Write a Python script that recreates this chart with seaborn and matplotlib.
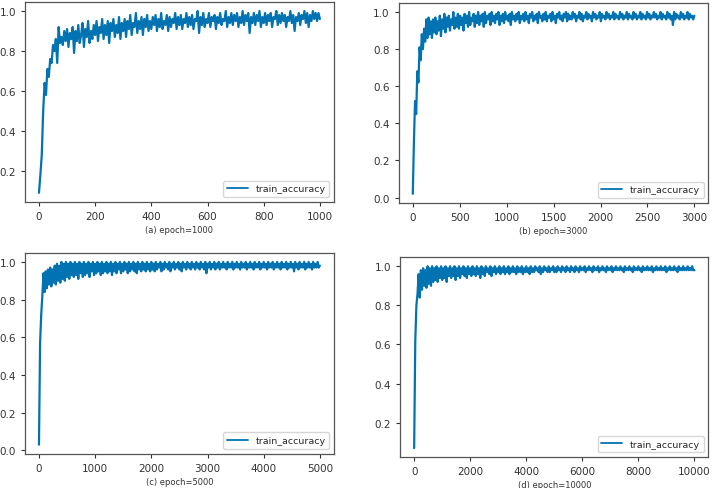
import numpy as np
import pandas as pd
import seaborn as sns
import matplotlib.pyplot as plt

# epochs sampled for each run
epochs_a = np.arange(0, 1001, 5)
epochs_b = np.arange(0, 3001, 12)
epochs_c = np.arange(0, 5001, 20)
epochs_d = np.arange(0, 10001, 40)

# training accuracy
acc_a = [
    0.09, 0.18, 0.28, 0.50, 0.64, 0.58, 0.71, 0.67, 0.76, 0.74, 0.83, 0.80, 0.86, 0.74, 0.92, 0.84, 0.87, 0.83, 0.90, 0.85,
    0.91, 0.82, 0.89, 0.86, 0.92, 0.79, 0.90, 0.85, 0.93, 0.84, 0.88, 0.94, 0.82, 0.91, 0.87, 0.95, 0.84, 0.90, 0.86, 0.93,
    0.88, 0.95, 0.85, 0.92, 0.89, 0.96, 0.86, 0.93, 0.88, 0.95, 0.84, 0.94, 0.90, 0.96, 0.87, 0.93, 0.89, 0.97, 0.86, 0.94,
    0.90, 0.96, 0.87, 0.95, 0.91, 0.98, 0.88, 0.94, 0.92, 0.99, 0.89, 0.95, 0.91, 0.97, 0.88, 0.96, 0.92, 0.98, 0.90, 0.95,
    0.91, 0.97, 0.93, 0.98, 0.90, 0.96, 0.92, 0.99, 0.91, 0.95, 0.93, 0.98, 0.90, 0.97, 0.92, 0.96, 0.94, 0.99, 0.91, 0.97,
    0.93, 0.98, 0.91, 0.96, 0.94, 0.99, 0.92, 0.97, 0.93, 0.98, 0.91, 0.96, 0.95, 1.00, 0.89, 0.97, 0.93, 0.99, 0.92, 0.96,
    0.94, 0.99, 0.92, 0.97, 0.95, 0.98, 0.91, 0.97, 0.94, 0.99, 0.93, 0.96, 0.95, 1.00, 0.92, 0.97, 0.94, 0.99, 0.93, 0.98,
    0.95, 0.99, 0.92, 0.97, 0.94, 1.00, 0.93, 0.98, 0.95, 0.99, 0.89, 0.97, 0.94, 0.99, 0.93, 0.98, 0.95, 1.00, 0.92, 0.97,
    0.94, 0.99, 0.93, 0.98, 0.95, 0.99, 0.92, 0.97, 0.96, 1.00, 0.93, 0.98, 0.94, 0.99, 0.95, 0.98, 0.92, 0.97, 0.95, 1.00,
    0.94, 0.98, 0.90, 0.97, 0.95, 0.99, 0.93, 0.98, 0.96, 1.00, 0.94, 0.99, 0.92, 0.98, 0.95, 1.00, 0.96, 0.99, 0.95, 0.99,
    0.96,
]

acc_b = [
    0.02, 0.30, 0.52, 0.45, 0.68, 0.62, 0.81, 0.74, 0.88, 0.80, 0.91, 0.84, 0.96, 0.86, 0.97, 0.88, 0.95, 0.86, 0.96, 0.89,
    0.97, 0.88, 0.95, 0.90, 0.98, 0.87, 0.96, 0.91, 0.99, 0.89, 0.97, 0.92, 0.98, 0.90, 0.96, 0.93, 1.00, 0.91, 0.97, 0.92,
    0.99, 0.91, 0.98, 0.93, 0.97, 0.90, 0.99, 0.94, 0.98, 0.92, 1.00, 0.93, 0.97, 0.95, 0.99, 0.92, 0.98, 0.94, 1.00, 0.93,
    0.98, 0.95, 0.99, 0.92, 1.00, 0.94, 0.98, 0.96, 0.99, 0.93, 1.00, 0.95, 0.98, 0.94, 0.99, 0.96, 1.00, 0.93, 0.98, 0.95,
    0.99, 0.94, 1.00, 0.96, 0.98, 0.95, 0.99, 0.93, 1.00, 0.96, 0.98, 0.95, 0.99, 0.96, 1.00, 0.94, 0.98, 0.96, 0.99, 0.95,
    1.00, 0.96, 0.98, 0.94, 0.99, 0.97, 1.00, 0.95, 0.98, 0.96, 0.99, 0.94, 1.00, 0.97, 0.98, 0.95, 0.99, 0.96, 1.00, 0.95,
    0.98, 0.97, 0.99, 0.95, 1.00, 0.96, 0.98, 0.94, 0.99, 0.97, 1.00, 0.96, 0.98, 0.95, 0.99, 0.97, 1.00, 0.95, 0.99, 0.96,
    0.98, 0.96, 1.00, 0.97, 0.99, 0.95, 0.98, 0.97, 1.00, 0.96, 0.99, 0.95, 0.98, 0.97, 1.00, 0.96, 0.99, 0.97, 0.98, 0.95,
    1.00, 0.97, 0.99, 0.96, 0.98, 0.97, 1.00, 0.95, 0.99, 0.97, 0.98, 0.96, 1.00, 0.97, 0.99, 0.96, 0.98, 0.97, 1.00, 0.96,
    0.99, 0.97, 0.98, 0.96, 1.00, 0.97, 0.99, 0.96, 0.98, 0.97, 1.00, 0.96, 0.99, 0.97, 0.98, 0.96, 1.00, 0.97, 0.99, 0.96,
    0.98, 0.97, 1.00, 0.96, 0.99, 0.97, 0.98, 0.96, 1.00, 0.97, 0.99, 0.96, 0.98, 0.97, 1.00, 0.97, 0.99, 0.96, 0.98, 0.97,
    1.00, 0.96, 0.99, 0.97, 0.98, 0.96, 1.00, 0.97, 0.99, 0.96, 0.98, 0.93, 1.00, 0.96, 0.99, 0.97, 0.98, 0.96, 1.00, 0.97,
    0.99, 0.96, 0.98, 0.97, 1.00, 0.96, 0.99, 0.97, 0.98, 0.96, 0.98,
]

acc_c = [
    0.03, 0.57, 0.72, 0.82, 0.94, 0.84, 0.95, 0.86, 0.96, 0.88, 0.97, 0.87, 0.96, 0.89, 0.98, 0.88, 0.99, 0.90, 0.98, 0.89,
    1.00, 0.91, 0.99, 0.90, 1.00, 0.92, 0.99, 0.91, 1.00, 0.93, 0.99, 0.92, 1.00, 0.93, 0.99, 0.91, 1.00, 0.94, 0.99, 0.92,
    1.00, 0.93, 0.99, 0.94, 1.00, 0.92, 0.99, 0.95, 1.00, 0.93, 0.99, 0.94, 1.00, 0.95, 0.99, 0.93, 1.00, 0.94, 0.99, 0.95,
    1.00, 0.94, 0.99, 0.95, 1.00, 0.93, 0.99, 0.95, 1.00, 0.94, 0.99, 0.96, 1.00, 0.94, 0.99, 0.95, 1.00, 0.96, 0.99, 0.94,
    1.00, 0.95, 0.99, 0.96, 1.00, 0.95, 0.99, 0.94, 1.00, 0.96, 0.99, 0.95, 1.00, 0.96, 0.99, 0.95, 1.00, 0.96, 0.99, 0.95,
    1.00, 0.96, 0.99, 0.95, 1.00, 0.96, 0.99, 0.97, 1.00, 0.95, 0.99, 0.96, 1.00, 0.97, 0.99, 0.96, 1.00, 0.95, 0.99, 0.97,
    1.00, 0.96, 0.99, 0.97, 1.00, 0.96, 0.99, 0.95, 1.00, 0.97, 0.99, 0.96, 1.00, 0.97, 0.99, 0.96, 1.00, 0.97, 0.99, 0.96,
    1.00, 0.97, 0.99, 0.96, 1.00, 0.97, 0.99, 0.96, 1.00, 0.94, 0.99, 0.97, 1.00, 0.96, 0.99, 0.97, 1.00, 0.96, 0.99, 0.97,
    1.00, 0.96, 0.99, 0.97, 1.00, 0.97, 0.99, 0.96, 1.00, 0.97, 0.99, 0.97, 1.00, 0.96, 0.99, 0.97, 1.00, 0.97, 0.99, 0.96,
    1.00, 0.97, 0.99, 0.97, 1.00, 0.96, 0.99, 0.97, 1.00, 0.97, 0.99, 0.96, 1.00, 0.97, 0.99, 0.97, 1.00, 0.96, 0.99, 0.97,
    1.00, 0.97, 0.99, 0.96, 1.00, 0.97, 0.99, 0.97, 1.00, 0.96, 0.99, 0.97, 1.00, 0.97, 0.99, 0.96, 1.00, 0.97, 0.99, 0.97,
    1.00, 0.96, 0.99, 0.97, 1.00, 0.97, 0.99, 0.95, 1.00, 0.97, 0.99, 0.96, 1.00, 0.97, 0.99, 0.97, 1.00, 0.96, 0.99, 0.97,
    1.00, 0.97, 0.99, 0.96, 1.00, 0.97, 0.99, 0.97, 1.00, 0.97, 0.98,
]

acc_d = [
    0.07, 0.62, 0.80, 0.86, 0.96, 0.84, 0.98, 0.88, 0.99, 0.90, 0.98, 0.89, 1.00, 0.91, 0.99, 0.90, 1.00, 0.92, 0.99, 0.93,
    1.00, 0.92, 0.99, 0.94, 1.00, 0.93, 0.99, 0.94, 1.00, 0.92, 0.99, 0.95, 1.00, 0.94, 0.99, 0.95, 1.00, 0.93, 0.99, 0.95,
    1.00, 0.94, 0.99, 0.96, 1.00, 0.95, 0.99, 0.94, 1.00, 0.96, 0.99, 0.95, 1.00, 0.96, 0.99, 0.95, 1.00, 0.96, 0.99, 0.94,
    1.00, 0.96, 0.99, 0.95, 1.00, 0.97, 0.99, 0.96, 1.00, 0.95, 0.99, 0.97, 1.00, 0.96, 0.99, 0.97, 1.00, 0.96, 0.99, 0.97,
    1.00, 0.96, 0.99, 0.97, 1.00, 0.96, 0.99, 0.97, 1.00, 0.97, 0.99, 0.96, 1.00, 0.97, 0.99, 0.97, 1.00, 0.96, 0.99, 0.97,
    1.00, 0.97, 0.99, 0.96, 1.00, 0.97, 0.99, 0.97, 1.00, 0.98, 0.99, 0.97, 1.00, 0.96, 0.99, 0.97, 1.00, 0.98, 0.99, 0.97,
    1.00, 0.97, 0.99, 0.98, 1.00, 0.97, 0.99, 0.97, 1.00, 0.98, 0.99, 0.97, 1.00, 0.98, 0.99, 0.97, 1.00, 0.98, 0.99, 0.97,
    1.00, 0.98, 0.99, 0.97, 1.00, 0.98, 0.99, 0.97, 1.00, 0.98, 0.99, 0.98, 1.00, 0.97, 0.99, 0.98, 1.00, 0.98, 0.99, 0.97,
    1.00, 0.98, 0.99, 0.98, 1.00, 0.97, 0.99, 0.98, 1.00, 0.98, 0.99, 0.97, 1.00, 0.98, 0.99, 0.98, 1.00, 0.97, 0.99, 0.98,
    1.00, 0.98, 0.99, 0.98, 1.00, 0.98, 0.99, 0.97, 1.00, 0.98, 0.99, 0.98, 1.00, 0.98, 0.99, 0.97, 1.00, 0.98, 0.99, 0.98,
    1.00, 0.98, 0.99, 0.97, 1.00, 0.98, 0.99, 0.98, 1.00, 0.98, 0.99, 0.98, 1.00, 0.97, 0.99, 0.98, 1.00, 0.98, 0.99, 0.98,
    1.00, 0.98, 0.99, 0.98, 1.00, 0.97, 0.99, 0.98, 1.00, 0.98, 0.99, 0.98, 1.00, 0.98, 0.99, 0.97, 1.00, 0.98, 0.99, 0.98,
    1.00, 0.98, 0.99, 0.98, 1.00, 0.98, 0.99, 0.98, 1.00, 0.98, 0.98,
]

captions = ["(a) epoch=1000", "(b) epoch=3000", "(c) epoch=5000", "(d) epoch=10000"]
runs = [(epochs_a, acc_a), (epochs_b, acc_b), (epochs_c, acc_c), (epochs_d, acc_d)]

sns.set_theme(style="ticks", palette="colorblind")
plt.rcParams['font.family'] = ['DejaVu Sans']

fig = plt.figure(figsize=(7.12, 4.89), dpi=100)
# axes boxes placed to follow the reference layout
boxes = [
    [0.035, 0.585, 0.434, 0.409],
    [0.560, 0.583, 0.435, 0.409],
    [0.035, 0.070, 0.434, 0.411],
    [0.562, 0.063, 0.433, 0.409],
]

for box, (ep, acc), cap in zip(boxes, runs, captions):
    ax = fig.add_axes(box)
    df = pd.DataFrame({'epoch': ep, 'acc': acc})
    sns.lineplot(data=df, x='epoch', y='acc', ax=ax, color='#0173b2',
                 linewidth=1.6, label='train_accuracy')
    ax.set_ylabel('')
    ax.set_xlabel(cap, fontsize=6, color='#333333', labelpad=3)
    ax.tick_params(labelsize=7.5, colors='#333333', length=3, width=0.8)
    for s in ax.spines.values():
        s.set_color('#555555')
        s.set_linewidth(0.9)
    leg = ax.legend(loc='lower right', fontsize=6.8, frameon=True, handlelength=2.2)
    leg.get_lines()[0].set_linewidth(1.3)

plt.savefig('out.png', dpi=100)
